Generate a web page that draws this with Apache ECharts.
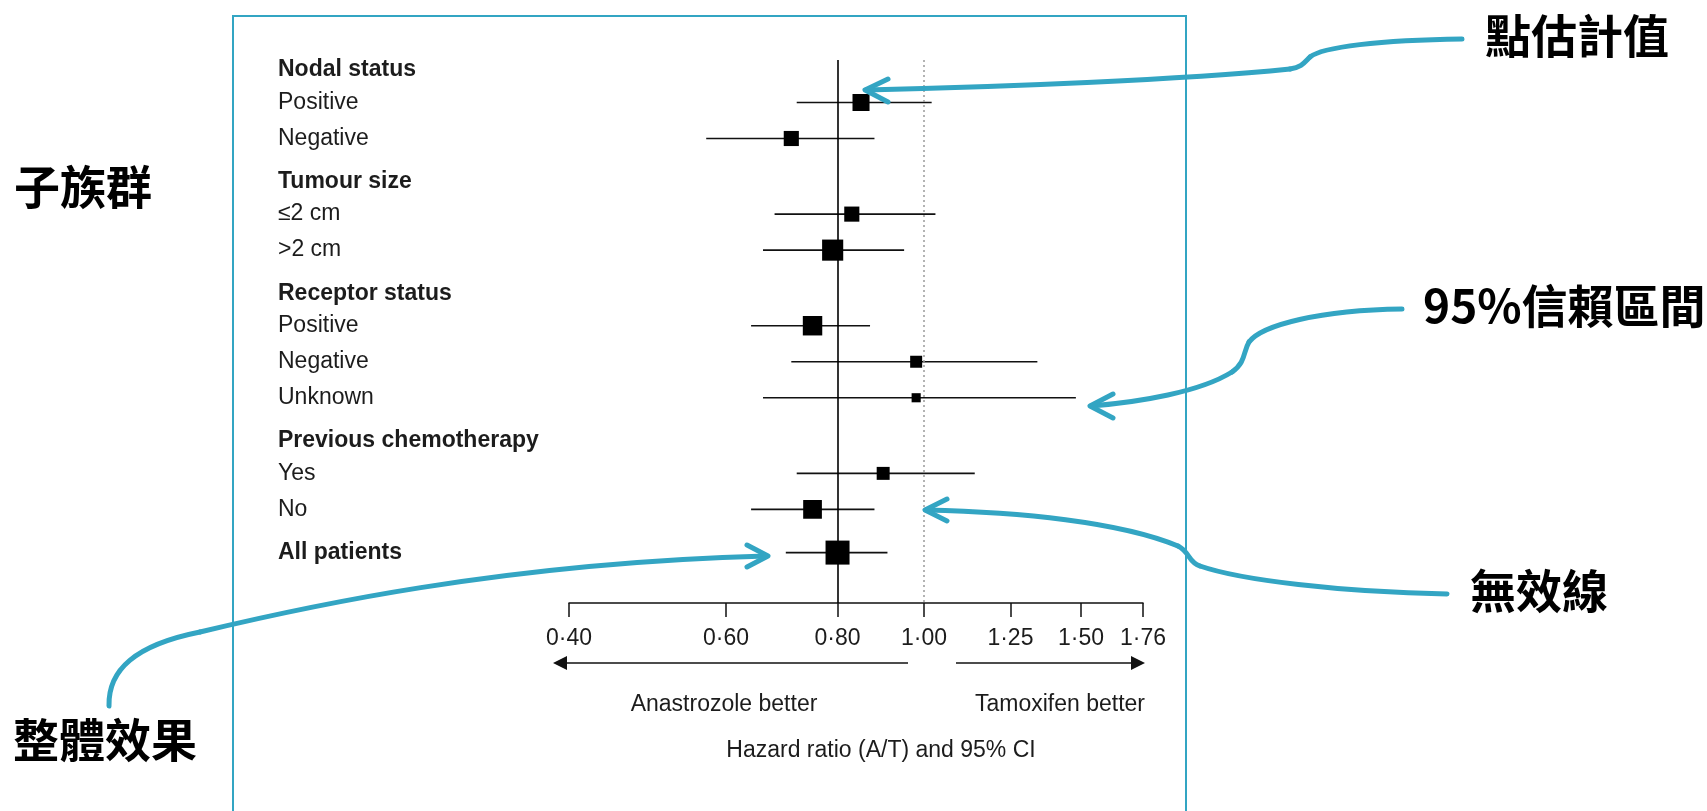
<!DOCTYPE html>
<html>
<head>
<meta charset="utf-8">
<title>Forest plot</title>
<script src="https://cdn.jsdelivr.net/npm/echarts@6/dist/echarts.min.js"></script>
<style>
  html, body { margin: 0; padding: 0; background: #fff; }
  #chart { width: 1707px; height: 811px; }
</style>
</head>
<body>
<div id="chart"></div>
<script>
// subgroup data
const groupNames = ['Nodal status', 'Tumour size', 'Receptor status', 'Previous chemotherapy'];
const subgroupNames = ['Positive', 'Negative', '≤2 cm', '>2 cm', 'Positive', 'Negative', 'Unknown', 'Yes', 'No'];
const subgroupGroup = [0, 0, 1, 1, 2, 2, 2, 3, 3];
const subgroupHR = [0.85, 0.71, 0.83, 0.79, 0.75, 0.98, 0.98, 0.90, 0.75];
const subgroupLow = [0.72, 0.57, 0.68, 0.66, 0.64, 0.71, 0.66, 0.72, 0.64];
const subgroupHigh = [1.02, 0.88, 1.03, 0.95, 0.87, 1.34, 1.48, 1.14, 0.88];
const subgroupWeight = [71, 63, 63, 88, 81, 50, 38, 54, 78];

const overallName = 'All patients';
const overallHR = 0.80;
const overallLow = 0.70;
const overallHigh = 0.91;
const overallWeight = 100;

const noEffect = 1.0;
const xTicks = [0.40, 0.60, 0.80, 1.00, 1.25, 1.50, 1.76];
const sideLabels = ['Anastrozole better', 'Tamoxifen better'];
const axisTitle = 'Hazard ratio (A/T) and 95% CI';

// annotation callouts
const notePoint = '點估計值';
const noteCI = '95%信賴區間';
const noteSubgroup = '子族群';
const noteOverall = '整體效果';
const noteNull = '無效線';

const TEAL = '#33a5c3';
const INK = '#1c1c1c';
const LATIN = '"Liberation Sans", Arial, sans-serif';
const CJK = '"Noto Sans CJK TC", "Noto Sans CJK SC", sans-serif';

// row layout: header, then its subgroups, extra gap before next header
const GAP_HEAD = 0.9;
const GAP_GROUP = 1.2;
const rows = [];
let pos = 0.28;
groupNames.forEach((g, gi) => {
  if (gi) pos += GAP_GROUP;
  rows.push({ label: g, bold: true, pos: pos });
  let first = true;
  subgroupNames.forEach((s, i) => {
    if (subgroupGroup[i] !== gi) return;
    pos += first ? GAP_HEAD : 1;
    first = false;
    rows.push({ label: s, bold: false, pos: pos, i: i });
  });
});
pos += GAP_GROUP;
rows.push({ label: overallName, bold: true, pos: pos, overall: true });

const SIZE_PER_WEIGHT = 0.24;
const estimates = [];
rows.forEach((r) => {
  if (r.overall) {
    estimates.push([overallLow, overallHR, overallHigh, r.pos, overallWeight * SIZE_PER_WEIGHT]);
  } else if (r.i !== undefined) {
    const i = r.i;
    estimates.push([subgroupLow[i], subgroupHR[i], subgroupHigh[i], r.pos, subgroupWeight[i] * SIZE_PER_WEIGHT]);
  }
});

const fmt = (v) => v.toFixed(2).replace('.', '·');
const LABEL_X = 278;

// callout arrow: list of cubic segments [x1,y1,c1x,c1y,c2x,c2y,x2,y2] plus an open arrow head
function callout(segs, head) {
  const els = segs.map((s) => ({
    type: 'bezierCurve', z: 10, silent: true,
    shape: { x1: s[0], y1: s[1], cpx1: s[2], cpy1: s[3], cpx2: s[4], cpy2: s[5], x2: s[6], y2: s[7] },
    style: { fill: null, stroke: TEAL, lineWidth: 5, lineCap: 'round' }
  }));
  els.push({
    type: 'polyline', z: 10, silent: true,
    shape: { points: head },
    style: { fill: null, stroke: TEAL, lineWidth: 5, lineCap: 'round', lineJoin: 'round' }
  });
  return els;
}

const chart = echarts.init(document.getElementById('chart'));

const option = {
  animation: false,
  backgroundColor: '#fff',
  grid: { left: 569, right: 564, top: 60, bottom: 208 },
  xAxis: {
    type: 'log',
    position: 'bottom',
    min: xTicks[0],
    max: xTicks[xTicks.length - 1],
    splitLine: { show: false },
    axisLine: { onZero: false, lineStyle: { color: '#111', width: 1.5 } },
    axisTick: {
      customValues: xTicks,
      length: 14,
      lineStyle: { color: '#111', width: 1.5 }
    },
    axisLabel: {
      customValues: xTicks,
      formatter: (v) => fmt(v),
      margin: 24,
      color: INK,
      fontSize: 23,
      fontFamily: LATIN
    }
  },
  yAxis: {
    type: 'value',
    inverse: true,
    min: 0,
    max: 15.08,
    show: false
  },
  series: [
    {
      // row labels on the left
      type: 'custom',
      silent: true,
      data: rows.map((r) => [xTicks[0], r.pos]),
      renderItem: (params, api) => {
        const r = rows[params.dataIndex];
        const p = api.coord([api.value(0), api.value(1)]);
        return {
          type: 'text',
          style: {
            text: r.label,
            x: LABEL_X,
            y: p[1],
            fill: INK,
            font: (r.bold ? 'bold ' : '') + '23px ' + LATIN,
            align: 'left',
            verticalAlign: 'middle'
          }
        };
      }
    },
    {
      // CI whiskers and weighted squares
      type: 'custom',
      silent: true,
      encode: { x: [0, 1, 2], y: 3 },
      data: estimates,
      renderItem: (params, api) => {
        const y = api.value(3);
        const lo = api.coord([api.value(0), y]);
        const mid = api.coord([api.value(1), y]);
        const hi = api.coord([api.value(2), y]);
        const s = api.value(4);
        return {
          type: 'group',
          children: [
            {
              type: 'line',
              shape: { x1: lo[0], y1: lo[1], x2: hi[0], y2: hi[1] },
              style: { stroke: '#111', lineWidth: 1.6 }
            },
            {
              type: 'rect',
              shape: { x: mid[0] - s / 2, y: mid[1] - s / 2, width: s, height: s },
              style: { fill: '#000' }
            }
          ]
        };
      },
      markLine: {
        silent: true,
        symbol: 'none',
        label: { show: false },
        data: [
          { xAxis: overallHR, lineStyle: { color: '#000', width: 1.6, type: 'solid' } },
          { xAxis: noEffect, lineStyle: { color: '#9a9a9a', width: 1.5, type: [2, 3] } }
        ]
      }
    }
  ],
  graphic: [
    // teal frame round the figure
    {
      type: 'rect', z: 0, silent: true,
      shape: { x: 233, y: 16, width: 953, height: 840 },
      style: { fill: null, stroke: TEAL, lineWidth: 2 }
    },
    // direction arrows under the axis
    { type: 'line', shape: { x1: 562, y1: 663, x2: 908, y2: 663 }, style: { stroke: '#111', lineWidth: 1.6 } },
    { type: 'polygon', shape: { points: [[553, 663], [567, 656], [567, 670]] }, style: { fill: '#111' } },
    { type: 'line', shape: { x1: 956, y1: 663, x2: 1136, y2: 663 }, style: { stroke: '#111', lineWidth: 1.6 } },
    { type: 'polygon', shape: { points: [[1145, 663], [1131, 656], [1131, 670]] }, style: { fill: '#111' } },
    {
      type: 'text', x: 724, y: 705,
      style: { text: sideLabels[0], font: '23px ' + LATIN, fill: INK, align: 'center', verticalAlign: 'middle' }
    },
    {
      type: 'text', x: 1060, y: 705,
      style: { text: sideLabels[1], font: '23px ' + LATIN, fill: INK, align: 'center', verticalAlign: 'middle' }
    },
    {
      type: 'text', x: 881, y: 751,
      style: { text: axisTitle, font: '23px ' + LATIN, fill: INK, align: 'center', verticalAlign: 'middle' }
    },
    // callout labels
    { type: 'text', x: 1485, y: 36, style: { text: notePoint, font: 'bold 46px ' + CJK, fill: '#000', align: 'left', verticalAlign: 'middle' } },
    { type: 'text', x: 1423, y: 306, style: { text: noteCI, font: 'bold 46px ' + CJK, fill: '#000', align: 'left', verticalAlign: 'middle' } },
    { type: 'text', x: 14, y: 187, style: { text: noteSubgroup, font: 'bold 46px ' + CJK, fill: '#000', align: 'left', verticalAlign: 'middle' } },
    { type: 'text', x: 13, y: 740, style: { text: noteOverall, font: 'bold 46px ' + CJK, fill: '#000', align: 'left', verticalAlign: 'middle' } },
    { type: 'text', x: 1470, y: 591, style: { text: noteNull, font: 'bold 46px ' + CJK, fill: '#000', align: 'left', verticalAlign: 'middle' } }
  ]
    .concat(callout([
      [1462, 39, 1380, 40, 1322, 47, 1310, 57],
      [1310, 57, 1304, 63, 1302, 67, 1290, 69],
      [1290, 69, 1180, 80, 1000, 87, 866, 90]
    ], [[888, 79], [865, 90], [888, 102]]))
    .concat(callout([
      [1402, 309, 1320, 310, 1262, 325, 1249, 342],
      [1249, 342, 1243, 352, 1246, 362, 1232, 372],
      [1232, 372, 1200, 392, 1140, 402, 1091, 406]
    ], [[1113, 394], [1090, 406], [1113, 418]]))
    .concat(callout([
      [1447, 594, 1340, 592, 1240, 580, 1200, 566],
      [1200, 566, 1188, 562, 1190, 552, 1178, 546],
      [1178, 546, 1120, 522, 1020, 512, 926, 510]
    ], [[947, 499], [925, 510], [947, 521]]))
    .concat(callout([
      [109, 706, 108, 670, 135, 645, 200, 632],
      [200, 632, 300, 608, 500, 563, 766, 556]
    ], [[747, 545], [768, 556], [747, 567]]))
};

chart.setOption(option);
</script>
</body>
</html>
